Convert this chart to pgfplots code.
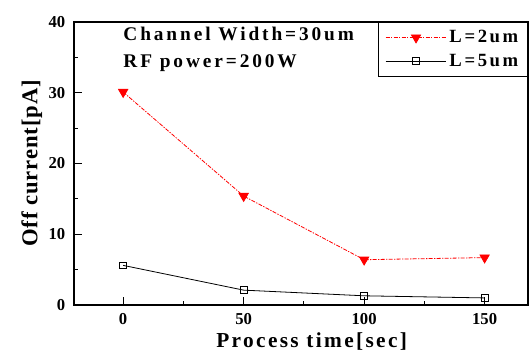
\documentclass[border=0pt]{standalone}
\usepackage{pgfplots}
\pgfplotsset{compat=1.18}
\usepackage{fontspec}
\setmainfont{Liberation Serif}
\begin{document}
\begin{tikzpicture}[x=1pt,y=1pt]
\begin{axis}[
  scale only axis,
  width=340.5pt, height=212.25pt,
  at={(55.5pt,36pt)}, anchor=south west,
  xmin=-20.4, xmax=168, ymin=0, ymax=40,
  xtick={0,50,100,150}, ytick={0,10,20,30,40},
  minor x tick num=1, minor y tick num=1,
  tick align=inside,
  xtick pos=bottom, ytick pos=left,
  major tick length=6pt, minor tick length=3pt,
  every tick/.style={black, line width=0.8pt},
  axis line style={line width=0.8pt},
  tick label style={font=\fontsize{12.5}{14}\selectfont\bfseries},
  xticklabel style={yshift=-3pt},
  yticklabel style={xshift=-3pt},
  /pgf/number format/assume math mode=true,
  xlabel={\addfontfeature{LetterSpace=11}Process time[sec]},
  ylabel={\addfontfeature{LetterSpace=4}Off current[pA]},
  xlabel style={font=\fontsize{16}{18}\selectfont\bfseries, yshift=1pt, xshift=8pt},
  ylabel style={font=\fontsize{17}{19}\selectfont\bfseries, yshift=-2pt},
  legend style={at={(1,1)}, anchor=north east, draw=black, line width=0.6pt,
    font=\fontsize{14}{16}\selectfont\bfseries\addfontfeature{LetterSpace=14},
    row sep=3pt, inner xsep=5pt, inner ysep=4pt},
  legend image code/.code={\draw[mark repeat=2,mark phase=2] plot coordinates {(0cm,0cm) (0.8cm,0cm) (1.6cm,0cm)};},
  legend cell align=left,
  clip=false,
]
\addplot[red, dash pattern=on 3pt off 1pt on 1pt off 1pt, line width=0.6pt, mark=triangle*, mark size=4pt, mark options={solid, fill=red, rotate=180}]
  coordinates {(0,30.1) (50,15.4) (100,6.4) (150,6.7)};
\addlegendentry{L=2um}
\addplot[black, line width=0.6pt, mark=square, mark size=2.5pt, mark options={solid, fill=white}]
  coordinates {(0,5.6) (50,2.1) (100,1.3) (150,1.0)};
\addlegendentry{L=5um}
\node[anchor=north west, align=left, inner sep=0pt, font=\fontsize{14.5}{20}\selectfont\bfseries\addfontfeature{LetterSpace=15}] at (axis cs:0,39.3) {Channel Width=30um\\RF power=200W};
\end{axis}
\pgfresetboundingbox
\path[use as bounding box] (0,0) rectangle (396.75pt,264.75pt);
\end{tikzpicture}
\end{document}
